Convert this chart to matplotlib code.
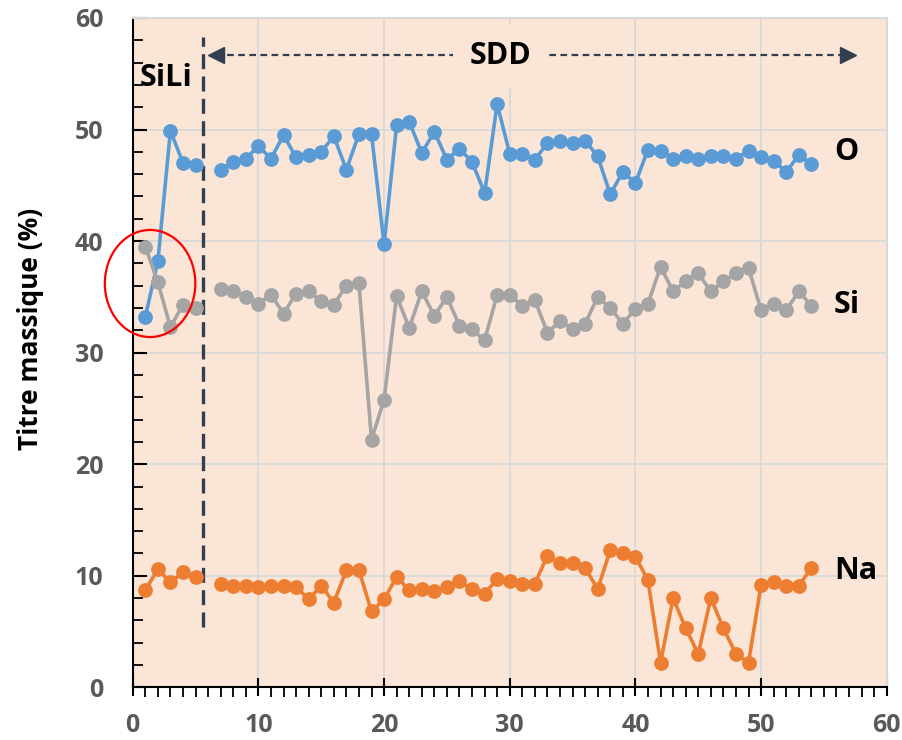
import numpy as np
import matplotlib
matplotlib.use('Agg')
import matplotlib.pyplot as plt
from matplotlib.patches import Ellipse
from matplotlib.ticker import MultipleLocator

plt.rcParams['font.family'] = ['Open Sans', 'DejaVu Sans']

nan = np.nan
# point index (6 is the gap between the SiLi and SDD runs)
x = list(range(1, 55))
O = [33.2, 38.2, 49.9, 47.0, 46.8, nan, 46.4, 47.1, 47.4, 48.5, 47.4, 49.5, 47.5, 47.7, 48.0, 49.4,
     46.4, 49.6, 49.6, 39.7, 50.4, 50.7, 47.9, 49.8, 47.3, 48.3, 47.1, 44.3, 52.3, 47.8, 47.8, 47.3,
     48.8, 49.0, 48.8, 49.0, 47.6, 44.2, 46.2, 45.2, 48.2, 48.1, 47.4, 47.6, 47.4, 47.6, 47.6, 47.4,
     48.1, 47.5, 47.2, 46.2, 47.7, 46.9]
Si = [39.5, 36.3, 32.3, 34.3, 34.0, nan, 35.7, 35.5, 35.0, 34.4, 35.2, 33.5, 35.3, 35.5, 34.6, 34.3,
      36.0, 36.2, 22.2, 25.8, 35.1, 32.2, 35.5, 33.3, 35.0, 32.4, 32.1, 31.1, 35.2, 35.2, 34.2, 34.7,
      31.8, 32.8, 32.1, 32.6, 35.0, 34.0, 32.6, 33.9, 34.4, 37.7, 35.5, 36.4, 37.1, 35.5, 36.4, 37.1,
      37.6, 33.8, 34.4, 33.8, 35.5, 34.2]
Na = [8.7, 10.6, 9.4, 10.3, 9.9, nan, 9.3, 9.1, 9.1, 9.0, 9.1, 9.1, 9.0, 7.9, 9.1, 7.6,
      10.5, 10.5, 6.8, 7.9, 9.9, 8.7, 8.8, 8.6, 9.0, 9.5, 8.8, 8.4, 9.7, 9.5, 9.3, 9.3,
      11.8, 11.1, 11.1, 10.7, 8.8, 12.3, 12.0, 11.7, 9.6, 2.2, 8.0, 5.3, 3.0, 8.0, 5.3, 3.0,
      2.2, 9.2, 9.4, 9.1, 9.1, 10.7]

series = [('O', O, '#5B9BD5', 48.0),
          ('Si', Si, '#A5A5A5', 34.3),
          ('Na', Na, '#ED7D31', 10.4)]

bg = '#FBE5D6'
navy = '#333F50'

fig = plt.figure(figsize=(9.03, 7.4), dpi=100)
ax = fig.add_axes([0.147, 0.0712, 0.835, 0.9045])
ax.set_facecolor(bg)

for name, vals, col, ylab in series:
    ax.plot(x, np.array(vals, dtype=float), color=col, lw=2.6, marker='o', ms=9.6, zorder=3)
    ax.text(55.8, ylab, name, fontsize=22, fontweight='bold', va='center', ha='left', zorder=4)

# SiLi / SDD separator and arrow
ax.plot([5.6, 5.6], [5.4, 58.3], color=navy, lw=2.4, ls=(0, (4.5, 2.2)), zorder=2)
ax.plot([6.6, 56.9], [56.7, 56.7], color=navy, lw=1.6, ls=(0, (3, 2)), zorder=2)
ax.plot([6.6], [56.7], marker='<', ms=11, color=navy, zorder=2)
ax.plot([56.9], [56.7], marker='>', ms=11, color=navy, zorder=2)
ax.text(29.3, 56.6, 'SDD', fontsize=22, fontweight='bold', ha='center', va='center', zorder=3,
        bbox=dict(boxstyle='square,pad=0.55', fc=bg, ec='none'))
ax.text(2.65, 54.6, 'SiLi', fontsize=22, fontweight='bold', ha='center', va='center', zorder=3)

ell = Ellipse((1.38, 36.2), width=7.2, height=9.6, fill=False, ec='#FF0000', lw=1.6,
              clip_on=False, zorder=5)
ax.add_patch(ell)

ax.set_xlim(0, 60)
ax.set_ylim(0, 60)
ax.xaxis.set_major_locator(MultipleLocator(10))
ax.xaxis.set_minor_locator(MultipleLocator(1))
ax.yaxis.set_major_locator(MultipleLocator(10))
ax.yaxis.set_minor_locator(MultipleLocator(2))
ax.grid(which='major', color='#D9D9D9', lw=1.3)
ax.set_axisbelow(True)

ax.tick_params(axis='x', which='major', direction='inout', length=13, width=1.5, pad=12,
               labelsize=18, labelcolor='#595959')
ax.tick_params(axis='x', which='minor', direction='out', length=7, width=1.3)
ax.tick_params(axis='y', which='major', direction='in', length=10, width=1.5, pad=21,
               labelsize=18, labelcolor='#595959')
ax.tick_params(axis='y', which='minor', direction='in', length=7, width=1.3)
for lab in ax.get_xticklabels() + ax.get_yticklabels():
    lab.set_fontweight('bold')

for s in ['left', 'bottom']:
    ax.spines[s].set_linewidth(1.5)
    ax.spines[s].set_color('black')
for s in ['top', 'right']:
    ax.spines[s].set_linewidth(1.5)
    ax.spines[s].set_color('#D9D9D9')

ax.set_ylabel('Titre massique (%)', fontsize=19, fontweight='bold')
ax.yaxis.set_label_coords(-0.118, 0.536)

fig.savefig('out.png', dpi=100)
